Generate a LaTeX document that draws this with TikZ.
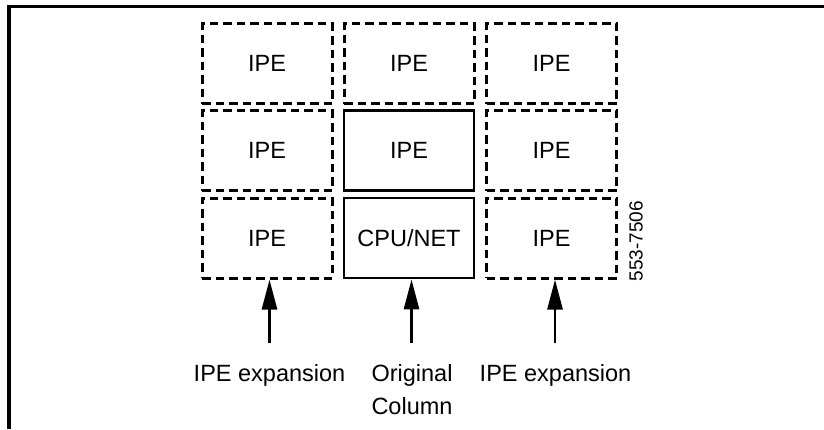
\documentclass[tikz,border=0pt]{standalone}
\usepackage{fontspec}
\setmainfont{Liberation Sans}
\usetikzlibrary{arrows.meta}
\begin{document}
\begin{tikzpicture}[x=1pt,y=-1pt,
  dbox/.style={draw,line width=3pt,dash pattern=on 8.5pt off 5pt,minimum width=130pt,minimum height=80pt,inner sep=0pt,font=\fontsize{23.5}{28}\selectfont},
  sbox/.style={draw,line width=2.8pt,minimum width=130pt,minimum height=80pt,inner sep=0pt,font=\fontsize{23.5}{28}\selectfont},
  lbl/.style={anchor=north,inner sep=0pt,align=center,font=\fontsize{23.5}{33}\selectfont},
  arr/.style={line width=2.8pt,-{Triangle[length=30pt,width=15pt]}}]
\useasboundingbox (0,0) rectangle (824,429);
\draw[line width=3.2pt] (9,429) -- (9,6.5) -- (824,6.5);
% row 1
\node[dbox] (b11) at (267,63.5) {IPE};
\node[dbox] (b12) at (409,63.5) {IPE};
\node[dbox] (b13) at (551.5,63.5) {IPE};
% row 2
\node[dbox] (b21) at (267,150.5) {IPE};
\node[sbox] (b22) at (409,150.5) {IPE};
\node[dbox] (b23) at (551.5,150.5) {IPE};
% row 3
\node[dbox] (b31) at (267,238) {IPE};
\node[sbox] (b32) at (409,238) {CPU/NET};
\node[dbox] (b33) at (551.5,238) {IPE};
% labels
\node[lbl] (l1) at (269.5,364) {IPE expansion};
\node[lbl] (l2) at (412,364) {Original\\Column};
\node[lbl] (l3) at (555.5,364) {IPE expansion};
\node[rotate=90,inner sep=0pt,font=\fontsize{19}{22}\selectfont] (code) at (636,241) {553-7506};
% arrows
\coordinate (a1) at (269.5,343);
\coordinate (a2) at (411.5,343);
\coordinate (a3) at (555,343);
\draw[arr] (a1) -- (a1 |- b31.south);
\draw[arr] (a2) -- (a2 |- b32.south);
\draw[arr] (a3) -- (a3 |- b33.south);
\end{tikzpicture}
\end{document}
